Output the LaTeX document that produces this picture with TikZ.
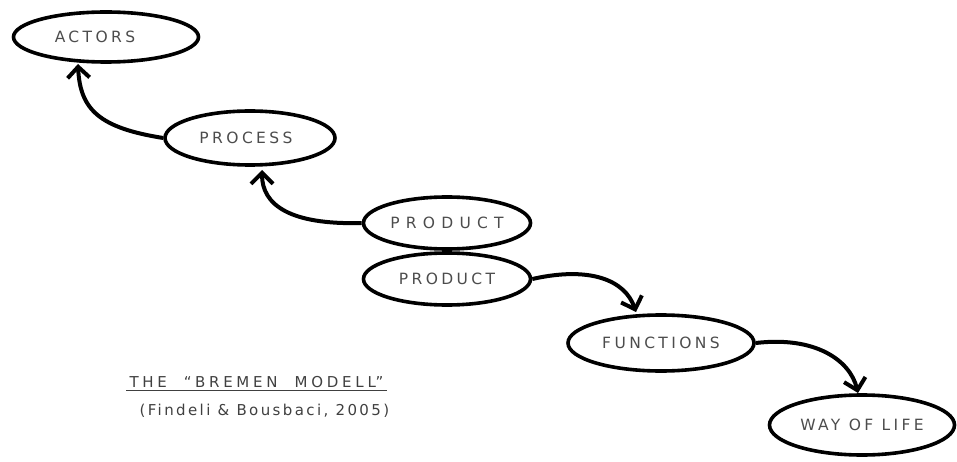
\documentclass[tikz,border=0pt]{standalone}
\usepackage{fontspec}
\setmainfont{DejaVu Sans}
\usetikzlibrary{shapes.geometric,arrows.meta}
\begin{document}
\begin{tikzpicture}[x=1pt,y=-1pt,
  blob/.style={ellipse,draw=black,line width=3.6pt,inner sep=0pt,font=\fontsize{15.5}{18}\selectfont\addfontfeature{LetterSpace=22}\color{black!70}},
  link/.style={line width=4pt,-{Straight Barb[length=11pt,width=22pt,line width=4pt]}},
  note/.style={font=\fontsize{15}{18}\selectfont\color{black!75},anchor=west}]
\useasboundingbox (0,0) rectangle (957,462);
\node[blob,minimum width=185pt,minimum height=50pt] (actors) at (106,37) {\hspace*{-22pt}ACTORS};
\node[blob,minimum width=170pt,minimum height=54pt] (process) at (250,138) {\hspace*{-8pt}PROCESS};
\node[blob,minimum width=167pt,minimum height=52pt] (prodA) at (447,223) {\addfontfeature{LetterSpace=40}PRODUCT};
\node[blob,minimum width=167pt,minimum height=52pt] (prodB) at (447,279) {PRODUCT};
\node[blob,minimum width=186pt,minimum height=56pt] (func) at (661,343) {FUNCTIONS};
\node[blob,minimum width=185pt,minimum height=60pt] (life) at (862,425) {WAY OF LIFE};
\coordinate (a1) at (78,64);
\coordinate (a2) at (262,170);
\coordinate (a3) at (636,312);
\coordinate (a4) at (858,393);
\draw[link] (process.west) .. controls (100,128) and (80,110) .. (a1);
\draw[link] (prodA.west) .. controls (290,225) and (262,205) .. (a2);
\draw[link] (prodB.east) .. controls (590,266) and (625,280) .. (a3);
\draw[link] (func.east) .. controls (815,336) and (850,360) .. (a4);
\node[note,font=\fontsize{15}{18}\selectfont\addfontfeature{LetterSpace=25}\color{black!75}] (title) at (126,382) {THE \ ``BREMEN \ MODELL''};
\draw[line width=1.3pt,black!75] ([yshift=1pt]title.south west) -- ([yshift=1pt]title.south east);
\node[note,font=\fontsize{15}{18}\selectfont\addfontfeature{LetterSpace=16}\color{black!75}] (cite) at (136,411) {(Findeli \& Bousbaci, 2005)};
\end{tikzpicture}
\end{document}
